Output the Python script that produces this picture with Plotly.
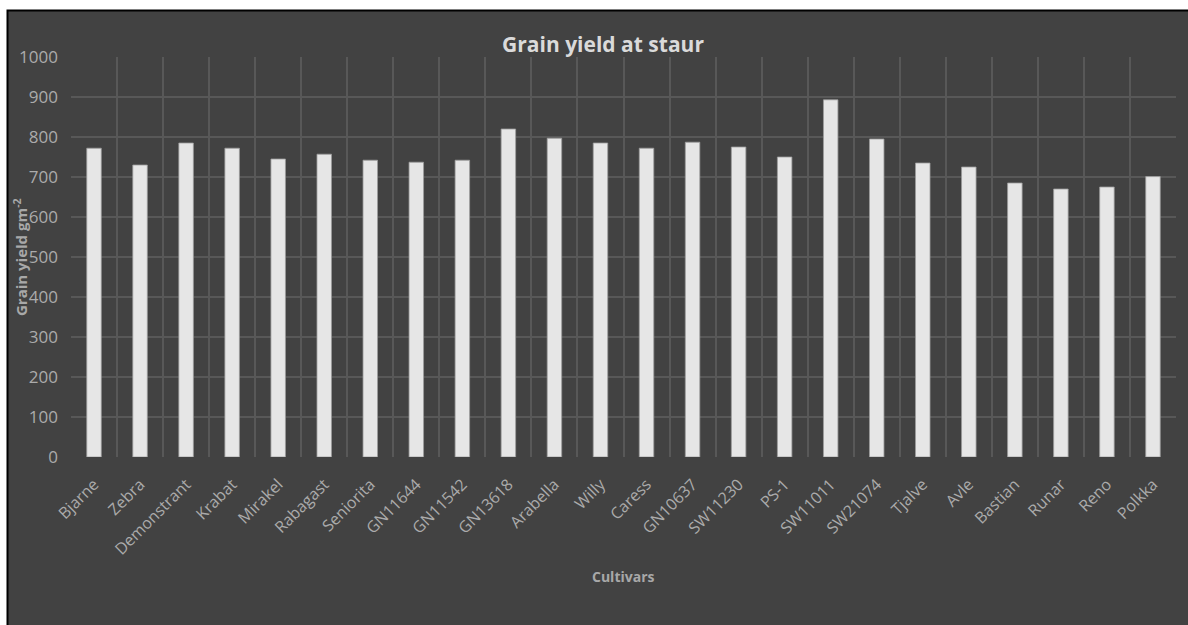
import plotly.graph_objects as go

# Cultivars and their grain yield (g m^-2)
cultivars = [
    "Bjarne", "Zebra", "Demonstrant", "Krabat", "Mirakel", "Rabagast",
    "Seniorita", "GN11644", "GN11542", "GN13618", "Arabella", "Willy",
    "Caress", "GN10637", "SW11230", "PS-1", "SW11011", "SW21074",
    "Tjalve", "Avle", "Bastian", "Runar", "Reno", "Polkka",
]
grain_yield = [
    772, 730, 785, 772, 745, 757,
    742, 737, 742, 820, 797, 785,
    772, 787, 775, 750, 893, 795,
    735, 725, 685, 670, 675, 701,
]
y_ticks = [0, 100, 200, 300, 400, 500, 600, 700, 800, 900, 1000]

W, H = 1188, 625
L, R, T, B = 71, 12, 57, 168
plot_w = W - L - R
plot_h = H - T - B

def px_x(p):
    return (p - L) / plot_w

def px_y(p):
    return (H - B - p) / plot_h

FONT = "Open Sans"
GRID = "#585858"
TICK = "#ababab"

fig = go.Figure(
    go.Bar(
        x=cultivars,
        y=grain_yield,
        marker=dict(color="#e6e6e6", line=dict(color="#9c9c9c", width=0.8)),
    )
)

fig.update_layout(
    width=W,
    height=H,
    margin=dict(l=L, r=R, t=T, b=B, autoexpand=False),
    paper_bgcolor="white",
    plot_bgcolor="#3c3c3c",
    bargap=0.685,
    showlegend=False,
    font=dict(family=FONT, color=TICK),
    title=dict(
        text="<b>Grain yield at staur</b>",
        x=603 / W,
        xanchor="center",
        y=1 - 45 / H,
        yanchor="middle",
        font=dict(family=FONT, size=21, color="#dadada"),
    ),
    shapes=[
        dict(
            type="rect",
            xref="paper",
            yref="paper",
            x0=px_x(7.5),
            x1=px_x(W + 5),
            y0=px_y(H + 5),
            y1=px_y(10.5),
            fillcolor="#424242",
            line=dict(color="black", width=2),
            layer="below",
        )
    ],
    annotations=[
        dict(
            text="<b>Grain yield gm<sup>-2</sup></b>",
            xref="paper",
            yref="paper",
            x=px_x(20),
            y=0.5,
            textangle=-90,
            showarrow=False,
            xanchor="center",
            yanchor="middle",
            font=dict(family=FONT, size=15, color="#a8a8a8"),
        ),
        dict(
            text="<b>Cultivars</b>",
            xref="paper",
            yref="paper",
            x=0.5,
            y=px_y(576),
            showarrow=False,
            xanchor="center",
            yanchor="middle",
            font=dict(family=FONT, size=14, color="#a8a8a8"),
        ),
    ],
)

fig.update_xaxes(
    type="category",
    tickson="boundaries",
    showgrid=True,
    gridcolor=GRID,
    gridwidth=1.5,
    tickangle=-45,
    ticks="",
    ticklabelstandoff=14,
    tickfont=dict(family=FONT, size=16, color=TICK),
    showline=False,
    zeroline=False,
    mirror=False,
)

fig.update_yaxes(
    range=[0, 1000],
    tickvals=y_ticks,
    ticktext=[str(v) for v in y_ticks],
    showgrid=True,
    gridcolor=GRID,
    gridwidth=1.5,
    ticks="",
    ticklabelstandoff=12,
    tickfont=dict(family=FONT, size=17, color=TICK),
    zeroline=False,
    showline=False,
)

fig.write_html("out.html")
